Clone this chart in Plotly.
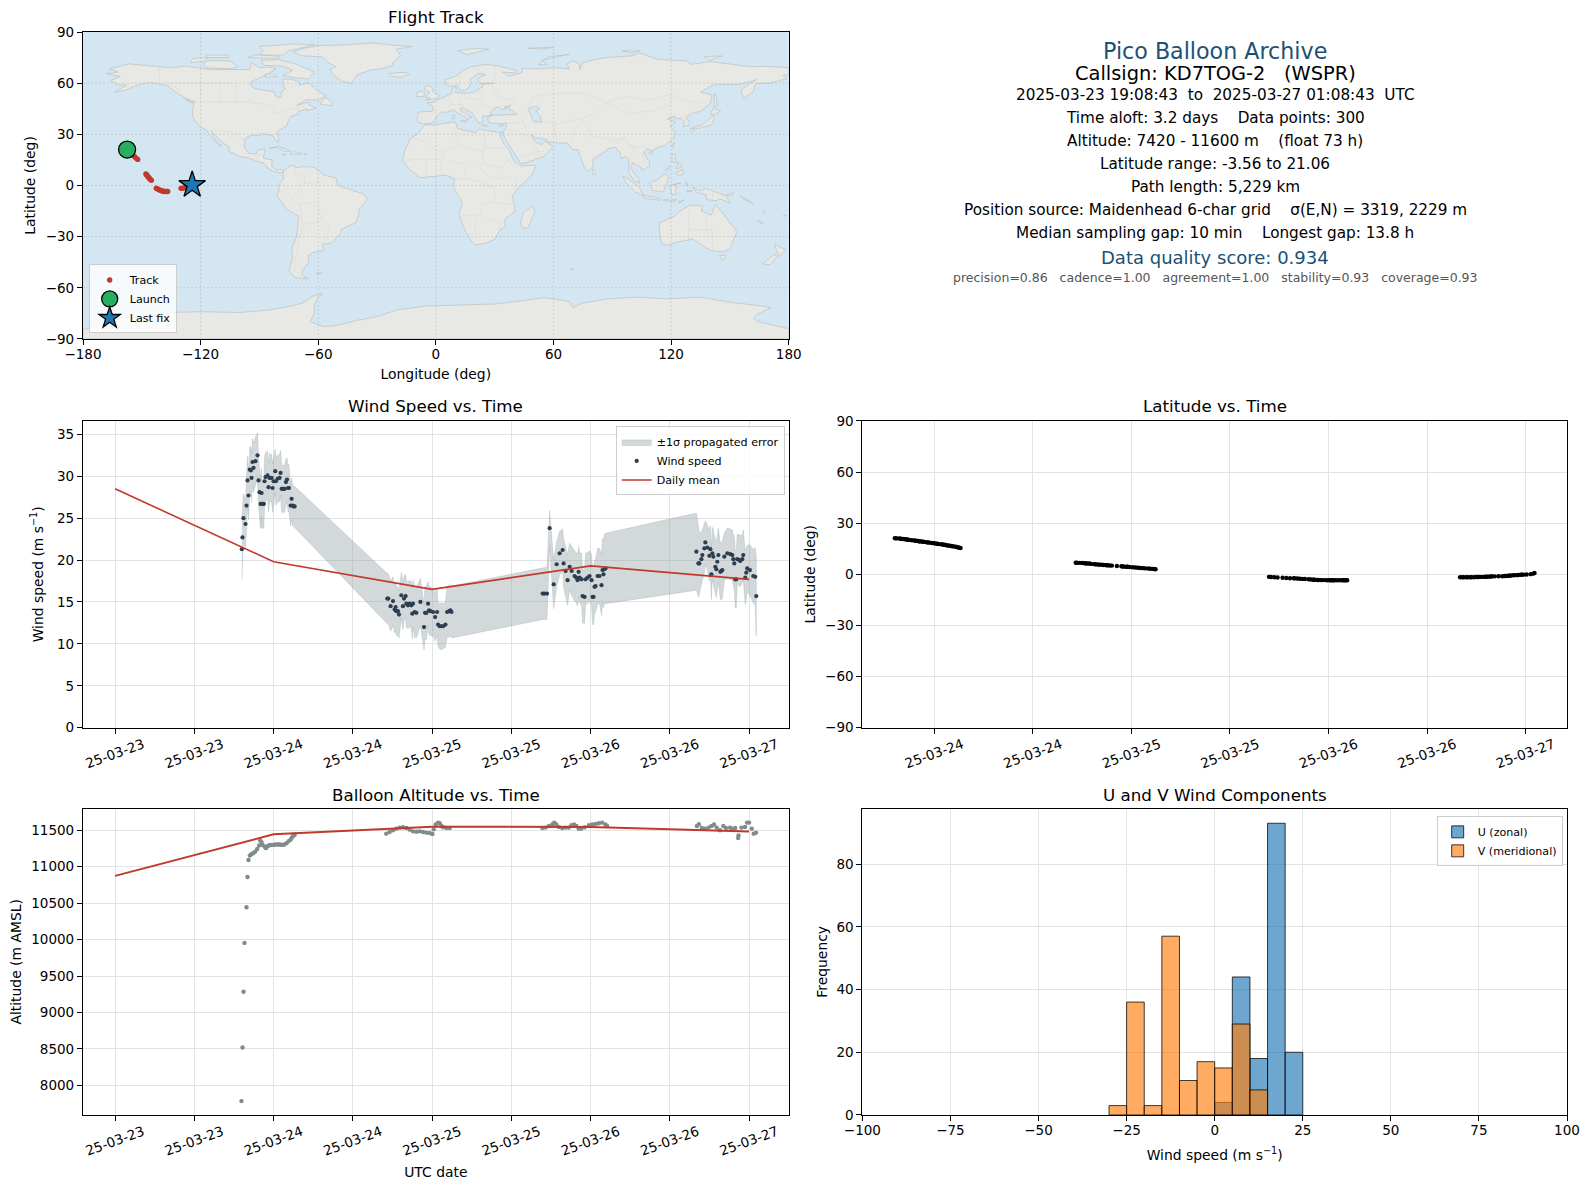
import pandas as pd
import plotly.graph_objects as go

FONT = "DejaVu Sans"
T0 = pd.Timestamp("2025-03-23 00:00:00")

# ---------- wind speed (hours after 03-23 00:00, m/s, sigma) ----------
wind_h1 = [19.19,19.29,19.44,19.75,19.9,20.05,20.2,20.4,20.56,20.66,20.81,20.96,21.27,21.57,21.72,21.87,
           22.03,22.18,22.18,22.33,22.53,22.63,22.78,23.09,23.24,23.39,23.7,23.85,24.0,24.25,24.35,24.6,24.91,
           25.06,25.22,25.37,25.52,25.67,25.87,26.03,26.18,26.33,26.58,26.73,26.89,27.04,27.19]
wind_v1 = [21.3,22.7,25.0,24.3,26.5,29.5,27.7,30.8,30.7,29.8,31.7,31.0,31.8,32.5,29.5,28.1,
           26.7,28.0,26.7,26.7,26.7,29.4,29.9,30.1,28.7,29.8,29.8,28.6,29.4,30.6,29.4,29.7,29.8,
           30.4,28.5,28.5,28.5,28.5,29.3,29.6,28.6,28.6,26.5,27.3,26.5,26.4,26.4]
wind_s1 = [3.7,3.2,2.9,2.8,2.8,2.9,2.9,2.7,2.8,2.9,2.8,2.9,2.9,2.7,2.9,2.9,
           2.9,2.9,2.9,2.9,2.9,2.9,2.9,2.9,2.9,2.9,2.8,2.9,2.9,2.6,2.9,2.8,2.8,
           2.7,2.8,2.8,2.8,2.8,2.7,2.6,2.8,2.8,2.4,2.5,2.4,2.4,2.4]
wind_h2 = [41.22,41.37,41.72,42.08,42.33,42.48,42.58,42.84,42.99,43.34,43.59,43.75,44.0,44.1,44.35,44.61,44.86,45.01,45.11,45.37,
           45.62,46.23,46.78,46.94,47.14,47.39,47.54,47.75,48.15,48.46,48.76,48.91,49.16,49.42,49.67,50.03,50.28,50.58,50.78,50.94]
wind_v2 = [15.4,15.4,14.5,15.1,14.1,14.4,13.9,13.9,13.5,15.8,14.5,15.4,15.7,14.8,14.6,14.8,14.6,13.6,14.8,13.8,
           13.7,15.0,12.0,13.7,13.7,14.8,14.0,13.9,13.8,13.2,13.8,12.3,12.1,12.1,12.1,12.3,13.8,13.9,14.0,13.8]
wind_s2 = [3.0,3.0,3.0,2.9,2.8,2.9,2.9,2.9,2.8,2.7,2.8,2.7,2.6,2.8,2.8,2.8,2.8,3.0,2.8,3.0,
           3.0,2.8,2.7,3.1,3.2,2.6,2.9,2.9,2.8,2.9,2.8,2.6,2.7,2.8,2.7,2.7,3.0,3.1,3.0,3.1]
wind_h3 = [64.75,65.0,65.4,65.8,66.41,66.86,67.31,67.77,67.92,68.22,68.52,68.83,69.13,69.58,69.83,70.04,70.19,70.34,70.64,70.79,
           71.09,71.24,71.55,71.85,72.15,72.3,72.45,72.6,72.76,73.06,73.36,73.66,73.81,73.96,74.07,74.27]
wind_v3 = [16,16,16,23.8,17.1,19.5,20.8,21.2,19.6,18.7,17.6,19.2,18.7,18.1,17.9,17.6,18.6,17.9,17.7,15.7,
           15.6,17.7,17.9,18.1,17.6,15.6,15.6,16.8,16.9,18.1,18.1,17.0,18.8,18.3,18.9,19.0]
wind_s3 = [3.1,3.1,3.1,2.1,2.9,2.7,2.6,2.5,2.9,2.9,3.0,2.8,2.9,3.0,3.0,3.1,3.0,3.0,3.1,3.2,
           3.2,3.1,3.0,3.0,3.0,3.3,3.3,3.2,3.2,3.3,3.3,3.6,3.8,4.0,4.1,4.2]
wind_h4 = [88.02,88.32,88.47,88.78,88.93,89.23,89.38,89.68,89.98,90.14,90.29,90.44,90.59,90.89,91.04,91.19,91.35,91.65,91.8,91.95,
           92.25,92.71,93.16,93.46,93.61,93.76,93.91,94.06,94.21,94.52,94.67,94.97,95.12,95.42,95.57,95.72,96.13,96.63,96.94,97.09]
wind_v4 = [21.0,19.6,19.6,20.1,20.6,21.4,22.1,21.5,20.5,21.3,18.3,20.8,20.4,19.2,18.9,19.8,20.6,18.6,18.7,18.8,
           20.4,20.8,20.7,20.6,20.1,19.6,17.7,17.7,20.1,20.0,19.9,20.1,20.6,17.9,18.5,19.0,18.8,18.1,18.0,15.7]
wind_s4 = [4.6,4.0,3.7,3.2,3.0,2.9,2.6,2.7,3.0,2.8,3.0,3.1,3.2,3.2,3.4,3.2,3.2,3.4,3.4,3.4,
           2.8,3.0,3.0,3.0,3.0,3.2,3.4,3.4,3.0,3.0,3.1,2.8,3.0,3.2,2.9,2.8,3.0,3.2,3.4,4.8]
wind_mean_h = [0, 24, 48, 72, 96]
wind_mean_v = [28.5, 19.8, 16.5, 19.3, 17.7]

# ---------- latitude ----------
lat_v1 = [21.2,21.1,21.1,21.0,20.9,20.8,20.7,20.6,20.5,20.4,20.3,20.2,20.0,19.8,19.7,19.6,19.5,19.4,19.35,19.3,
          19.2,19.1,19.0,18.8,18.7,18.6,18.4,18.3,18.2,18.0,17.9,17.7,17.6,17.4,17.3,17.2,17.0,16.9,16.8,16.6,
          16.5,16.4,16.2,16.0,15.8,15.6,15.4]
lat_v2 = [6.8,6.8,6.7,6.6,6.5,6.4,6.4,6.3,6.2,6.0,5.9,5.8,5.7,5.7,5.6,5.5,5.4,5.3,5.3,5.2,
          5.1,4.9,4.7,4.6,4.5,4.4,4.4,4.3,4.1,4.0,3.9,3.8,3.7,3.6,3.5,3.4,3.3,3.2,3.1,3.0]
lat_v3 = [-1.5,-1.6,-1.7,-1.9,-2.0,-2.2,-2.3,-2.3,-2.4,-2.5,-2.6,-2.7,-2.8,-2.9,-3.0,-3.1,-3.2,-3.2,-3.3,-3.3,
          -3.4,-3.4,-3.4,-3.5,-3.5,-3.5,-3.5,-3.5,-3.5,-3.5,-3.5,-3.5,-3.5,-3.5,-3.5,-3.5]
lat_v4 = [-1.7,-1.7,-1.7,-1.7,-1.7,-1.7,-1.7,-1.7,-1.6,-1.6,-1.6,-1.5,-1.5,-1.5,-1.5,-1.4,-1.4,-1.3,-1.3,-1.2,
          -1.2,-1.1,-1.1,-1.0,-1.0,-0.9,-0.8,-0.8,-0.7,-0.6,-0.5,-0.5,-0.4,-0.3,-0.2,-0.2,-0.1,0.1,0.4,0.8]

# ---------- altitude ----------
alt_h = [19.14,19.3,19.45,19.6,19.9,20.05,
         20.2,20.41,20.61,20.91,21.22,21.52,21.82,21.97,22.18,22.33,22.63,22.84,23.09,23.34,23.6,23.85,24.1,24.35,24.6,24.86,25.1,25.37,25.62,25.97,26.28,26.58,26.78,26.99,27.19,
         41.06,41.57,42.08,42.58,43.09,43.59,44.1,44.61,45.11,45.62,46.13,46.63,47.14,47.65,48.05,48.25,48.56,48.91,49.16,49.42,49.67,50.18,50.68,
         64.7,65.2,65.7,66.2,66.5,66.8,67.2,67.7,68.2,68.7,69.1,69.5,69.85,70.2,70.6,71.1,71.75,72.25,72.75,73.25,73.75,74.25,74.5,
         88.1,88.4,88.85,89.3,89.85,90.3,90.7,91.1,91.6,92.1,92.5,93.1,93.4,93.9,94.35,94.4,94.85,95.4,95.7,96.0,96.4,96.7,97.05]
alt_m = [7785,8520,9285,9955,10445,10860,
         11092,11153,11171,11185,11208,11245,11292,11361,11338,11300,11278,11255,11282,11296,11298,11300,11302,11305,11305,11305,11303,11300,11305,11324,11352,11370,11403,11426,11440,
         11454,11477,11500,11523,11537,11542,11532,11509,11486,11481,11486,11477,11468,11463,11449,11514,11579,11606,11597,11560,11542,11532,11532,
         11532,11537,11560,11579,11606,11579,11546,11532,11537,11537,11569,11579,11560,11523,11523,11542,11569,11579,11588,11597,11606,11579,11560,
         11560,11583,11532,11523,11537,11560,11579,11537,11500,11560,11532,11537,11523,11532,11394,11430,11537,11546,11606,11606,11523,11454,11468]
alt_mean_h = [0, 24, 48, 72, 96]
alt_mean_m = [10875, 11445, 11550, 11545, 11485]

# ---------- histogram ----------
hist_centres_u = [2.5, 7.5, 12.5, 17.5, 22.5]
hist_counts_u = [4, 44, 18, 93, 20]
hist_centres_v = [-27.5, -22.5, -17.5, -12.5, -7.5, -2.5, 2.5, 7.5, 12.5]
hist_counts_v = [3, 36, 3, 57, 11, 17, 15, 29, 8]

# ---------- flight track ----------
track_lon = [-157.5,-156.6,-155.6,-154.6,-153.6,-152.8,-152.1,
             -147.9,-147.5,-147.0,-146.6,-146.1,-145.6,-145.1,
             -142.6,-141.9,-141.2,-140.4,-139.7,-139.0,-138.3,-137.6,-136.8,
             -130.0,-129.2,-128.4,-127.6,-126.8,-126.0,-125.2,-124.3]
track_lat = [21.06,19.9,18.8,17.7,16.8,15.9,15.3,
             6.8,6.1,5.4,4.8,4.1,3.5,3.0,
             -1.6,-2.1,-2.5,-2.9,-3.2,-3.4,-3.5,-3.5,-3.56,
             -1.7,-1.6,-1.4,-1.1,-0.9,-0.6,-0.2,0.3]
launch_lon, launch_lat = [-157.5], [21.06]
last_lon, last_lat = [-124.3], [0.3]

# ---------- basemap outlines (lon, lat) ----------
north_america = [(-168,65.6),(-162,66.5),(-166.5,68.3),(-156.5,71.3),(-141,69.6),(-135,69),(-128,70),(-115,68),(-108,68),(-95,68),(-94,72),(-90,69),(-85,69.5),(-81.5,68.5),(-87,64.5),(-94,61),(-94.5,58.7),(-92.5,57),(-85,55.3),(-82.3,55),(-82,52.9),(-79.5,51.3),(-78.8,52.5),(-79,54.8),(-76.7,56.5),(-78,58.8),(-78,62.4),(-73.5,62.3),(-70,61),(-69.5,58.8),(-65,60.3),(-61,56),(-56,52.5),(-60,50.2),(-66.5,50.2),(-71,46.9),(-65,49),(-64.5,47),(-61,45.3),(-66,43.8),(-65.5,45),(-70,43.6),(-70.5,41.7),(-74,40.6),(-75.5,37.5),(-76,35),(-81,31.5),(-80,26.8),(-80.5,25.2),(-82,27),(-83,29),(-85,29.7),(-89,30.3),(-90,29.2),(-94,29.6),(-97.3,27.5),(-97.7,22.5),(-95.5,18.8),(-91.5,18.5),(-90.4,21),(-87,21.4),(-88,16),(-83.5,15),(-83.7,11),(-81,9),(-79.5,9.5),(-77.5,8.7),(-78,7.5),(-80,7.5),(-83,8.3),(-85.7,10),(-87.5,13),(-92,14.5),(-95,16),(-100,17),(-105.5,20),(-105.5,22.5),(-109,25.5),(-112.5,29.5),(-114.7,31.7),(-112,26),(-109.5,23),(-112,25),(-115,29),(-117,32.5),(-120.5,34.5),(-124,40),(-124,46),(-123,49),(-128,51.5),(-133,55),(-137,58.5),(-146,60.5),(-152,59),(-158,56),(-164,54.7),(-157.5,58.8),(-162,59),(-166,61.5),(-161,64)]
south_america = [(-77.5,8.7),(-75,11),(-72,12),(-71.5,10.5),(-68,11),(-62,10.7),(-57,6),(-51,4.5),(-50,0),(-44,-2.5),(-37,-5),(-35,-8),(-39,-14),(-39.5,-18),(-41,-22),(-48,-25.5),(-48.5,-28),(-53.5,-34),(-58,-34.3),(-57,-38),(-62,-39),(-65,-41),(-65,-45),(-68,-50),(-68.5,-52.5),(-65,-54.8),(-72,-54),(-75,-50),(-73,-42),(-73.5,-37),(-71,-30),(-70,-18),(-76,-14),(-81,-6),(-80,-2.5),(-80,1),(-77.5,4),(-78,7.5)]
greenland = [(-73,78.2),(-67,80.5),(-60,82),(-45,82.5),(-32,83.6),(-22,82.3),(-12,81.5),(-20,80),(-18,76),(-22,72),(-22,70.5),(-27,68.5),(-33,67.8),(-40,65),(-43,60),(-48,61),(-52,64.5),(-54,68),(-51,69.7),(-55,72),(-58,75.5),(-68,76)]
eurasia = [(-9,37),(-9.5,38.8),(-9,43),(-2,43.5),(-1.2,46),(-4.5,48.4),(-1.5,48.7),(1.5,50.5),(4,52),(8,54),(8.5,57),(10.5,57.6),(10,54.5),(12,54.2),(14.2,54),(19,54.5),(21,56),(24,58),(23.5,59.2),(29.8,60),(23,60),(21.3,61),(21.5,63),(25.3,65),(22,65.8),(17.5,62.5),(18,60),(16.5,57),(14.2,55.5),(12.8,55.5),(11,59),(7.5,58),(5,59.5),(5,62),(10,64),(14,67.5),(18,69.5),(25,71),(31,70.3),(41,67.5),(40,66),(34,66.5),(37,64),(40,65),(44,66.2),(44,68.5),(54,68.5),(60,69),(68,68.5),(67,71.5),(70,73),(73,71.5),(73.5,68),(75,72),(80,73.5),(87,75),(100,76),(104,77.7),(113,74),(128,73),(130,71),(140,72.7),(152,71),(160,69.7),(170,69.8),(180,69),(180,65),(177,64.5),(179,62.5),(170,60),(163,59.8),(162,55),(157,51),(155.5,56),(163.5,62),(155,59.3),(142,59.3),(135,54.7),(141,53),(140,48),(135,43.5),(130.7,42.3),(127.5,39.8),(129.5,37),(129,35.2),(126.3,34.5),(126.7,37.5),(125,39.6),(121.5,39),(122,40.7),(118,39),(122.5,37),(119.5,35),(122,31),(121.5,28),(117,23.5),(113.5,22.3),(110,20.5),(108,21.5),(106,19),(109,14),(109,11.5),(105,8.7),(105,10.3),(102.5,12),(100.5,13.5),(99.3,10),(103.3,4),(104,1.4),(101,3),(98.2,8.2),(98.5,14),(97,17),(94.5,16),(94,19),(91.5,22.5),(88,21.7),(86.5,20),(80.2,15.5),(80,11),(78,8.3),(76,10),(73,19),(72.5,21),(70,21),(67,24.8),(62,25),(57,25.6),(56.5,27),(51,28),(48.5,30),(50,26.5),(51.5,25),(54,24),(56,26),(59.7,22.5),(55,17),(45,13),(43.2,13),(39,21),(35,28),(34.2,31.3),(35.8,34),(36,36.5),(30.5,36.2),(27,37),(26.3,39.5),(29,41),(27,41),(23.5,40.3),(24,38),(23,36.5),(21.5,37),(19.5,41),(18.5,42.5),(13.7,45.6),(12.3,45),(12.5,44),(16,41.8),(18.5,40),(16.5,39.5),(16,38),(15.5,40),(12,42),(9,44.3),(6,43),(3,43),(0.5,40.5),(-0.5,38.5),(-2,36.7),(-5.5,36)]
africa = [(-5.5,35.8),(-1,35.5),(10,37.3),(11,33.5),(15,32.2),(20,31),(22,33),(32,31.2),(34.2,31.3),(32.5,29.8),(35,24),(37.3,21),(39.5,15),(43.2,11.5),(51.2,11.8),(49,6),(42,-1.5),(39,-6),(40.5,-15),(35,-20),(35.5,-24),(32.7,-26),(30,-31.5),(25.5,-34),(20,-34.8),(18.3,-33),(15,-27),(11.8,-17),(13.5,-10),(9,-1),(9.5,4),(5,6),(-4,5),(-8,4.5),(-13,9),(-17,14.7),(-16,20),(-13,27.7),(-9.5,30),(-6.5,34)]
australia = [(114,-22),(122,-18),(125,-14.5),(130,-11.5),(136,-12),(135.5,-15),(140.5,-17.5),(142.5,-11),(145.5,-15),(150,-22),(153.5,-27),(150,-37.5),(146,-39),(140,-38),(135.5,-35),(131,-31.5),(124,-33),(118,-35),(115,-34.3),(114,-26)]
antarctica = [(-180,-84.5),(-160,-78),(-150,-77),(-135,-74.5),(-120,-74),(-100,-74.5),(-85,-73),(-75,-71),(-68,-69),(-63,-65),(-57.5,-63.3),(-60,-65.5),(-62,-70),(-62,-75),(-64,-80),(-57,-82.8),(-50,-82),(-40,-79),(-30,-77),(-20,-73),(-5,-70.7),(15,-70),(30,-69.5),(45,-67.5),(55,-65.8),(68,-68),(70,-71.5),(75,-69),(88,-66.5),(102,-65.5),(118,-66.5),(135,-65.5),(150,-68.5),(165,-70.5),(171,-71.5),(164,-75.5),(162,-78),(165,-80),(180,-84),(180,-90),(-180,-90)]
islands = [
 [(-80,73.7),(-72,71.5),(-67,69),(-62,66.5),(-65,62.5),(-71,63),(-78,64.5),(-73,67.5),(-78,70),(-88,70.5),(-89,73.5)],
 [(-117,69),(-105,68.5),(-101,69.5),(-105,73),(-115,73.3),(-119,71.5)],
 [(-125,72),(-118,73),(-116,75),(-124,74.5)],
 [(-90,76.5),(-78,76.5),(-75,79),(-62,82.5),(-72,83),(-90,81.5),(-88,79)],
 [(-96,75),(-80,74.5),(-80,75.7),(-92,76.7)],
 [(-117,75),(-106,75),(-106,76.5),(-117,76.5)],
 [(-87,63.5),(-81,63.8),(-83,65.5),(-87,65.3)],
 [(-59,47.7),(-53,46.7),(-53,48.7),(-56,51.5),(-57.5,50.5)],
 [(-128,50.7),(-124,49),(-123.5,48.5),(-125.5,49)],
 [(-85,21.8),(-80,23),(-74.2,20.2),(-77.5,19.9),(-78.5,21),(-82,22.4)],
 [(-74.4,18.5),(-72.8,19.9),(-68.4,18.7),(-71,18)],
 [(-78.3,18.4),(-76.3,18.2),(-77,17.8)],
 [(-67.2,18.4),(-65.7,18.4),(-66,18)],
 [(-24,65.5),(-19,66.2),(-15,66.3),(-13.6,65),(-18,63.5),(-22.5,63.9)],
 [(11,79),(20,80.3),(27,80),(21,78),(16,76.7)],
 [(52,71),(56,74),(68,76.9),(58,75.5),(54,73),(57,70.7)],
 [(95,79),(104,79),(100,77.7)],
 [(137,75.5),(146,76),(140,73.5)],
 [(47,80.5),(60,81),(55,80)],
 [(-5.5,50),(1.5,51.2),(1.7,52.8),(-1.5,55),(-2,57.6),(-5,58.6),(-6,56.5),(-3,54.5),(-4.5,53.3),(-5,51.7),(-3,51.3)],
 [(-10,52),(-6,52.2),(-5.8,54.7),(-8,55.3),(-10,54)],
 [(12.5,38),(15.5,38.2),(15,36.7)],
 [(8.3,41),(9.7,41),(9.5,39),(8.5,39)],
 [(23.5,35.5),(26.3,35.2),(24.8,34.9)],
 [(32.3,35),(34.5,35.6),(33.5,34.6)],
 [(49.3,-12),(50.5,-15.5),(47,-25),(44,-25),(43.3,-21),(44.5,-16)],
 [(80,9.7),(82,7),(80.5,6),(79.7,8)],
 [(95.3,5.6),(98,4),(104,-1.5),(106,-6),(102,-4),(97,1.5)],
 [(105.5,-6),(110,-6.5),(114.5,-7.7),(114.5,-8.7),(106,-7.5)],
 [(109,1.5),(113,3.2),(117,7),(119,5),(117.5,1),(116,-3.8),(110.5,-3)],
 [(119.5,0),(125,1.5),(121,0.5),(123,-1),(122,-3),(123,-5),(120.5,-5.5),(120,-2.5)],
 [(131,-0.8),(135,-3.3),(138,-1.7),(145,-4.5),(147.8,-6),(150.5,-10.5),(145,-7.8),(143,-9),(138,-8.3),(138,-5.5),(133,-4)],
 [(116,-8.3),(119,-8.3),(119,-9),(116,-9)],
 [(120,-8.5),(123,-8.3),(122.5,-9),(119.5,-9.5)],
 [(124,-9.5),(127,-8.4),(124,-10.2)],
 [(127.5,2),(128.5,1),(128,-0.5)],
 [(127.8,-3),(130.8,-3.2),(128.5,-3.6)],
 [(148,-5.5),(152,-4.2),(151,-6)],
 [(155,-6),(160,-9),(162,-10.7),(157,-8)],
 [(164,-20.3),(167,-22.4),(166,-21.8)],
 [(167,-15),(168,-16.5),(167.2,-16)],
 [(177.3,-17.5),(178.6,-17.5),(178,-18.3)],
 [(120.5,18.5),(122.2,18.4),(122,15),(124,13),(120.5,14)],
 [(122,7),(126,9.5),(126.2,6.3),(124,6)],
 [(123,11.5),(125.5,12.5),(125,10.5),(122.5,10)],
 [(117.2,8.4),(119.5,11.3),(118,9)],
 [(120.2,23),(121.5,25.2),(121,22)],
 [(108.7,19.3),(110.5,20),(110.5,18.5)],
 [(130.9,34),(136,35.5),(140,39.5),(141.5,41.3),(142,39.5),(140.8,35.5),(136.5,34.3),(135,33.6),(131,33.5)],
 [(130,33.5),(132,33),(131,31),(130,31.3)],
 [(140,41.6),(141.5,45.4),(145.3,43.7),(143,42)],
 [(142,54.3),(143.2,52),(143.5,46.7),(142,46),(142,50)],
 [(144.7,-41),(148,-41),(147,-43.5),(146,-43.5)],
 [(172.7,-34.5),(178.5,-37.7),(175,-41.5),(174,-39)],
 [(172.7,-40.5),(174,-41.7),(170.5,-46.5),(166.5,-46)],
 [(-61,-51.3),(-58,-51.3),(-59,-52.2)],
 [(68.8,-49),(70.5,-49),(69.5,-49.8)],
]
inland_seas = [
 [(28,41.5),(31,41.2),(36,41.5),(41.5,41.7),(39,44),(37,45),(38,47),(35,46),(36.5,45.3),(33.5,44.5),(32.5,46),(30,45.5),(28,43)],
 [(47,45),(51,46.5),(53,45),(51,44),(53,41),(54,37),(50,37.5),(49,40)],
]
borders = [
 [(-123,49),(-95,49),(-89,48),(-83,46),(-82.5,42),(-79,43),(-75,45),(-71,45),(-67.5,47),(-67,44.8)],
 [(-141,69.6),(-141,60),(-135,59),(-130,55.5)],
 [(-117,32.5),(-108,31.5),(-106,31.7),(-101,29.7),(-97.5,26)],
 [(-92,14.5),(-91,17.5),(-89,17.8),(-88.5,18)],
 [(-72,12),(-72,7),(-67,6),(-67,1.5)],
 [(-60,5),(-60,1.5),(-67,1.5),(-70,-1),(-70,-4),(-74,-7.5),(-70,-11),(-65,-10),(-60,-14),(-58,-20),(-55,-24),(-54,-27),(-57.5,-30),(-53.5,-33.5)],
 [(-69,-11),(-69,-17),(-70,-18)],
 [(-69,-18),(-68,-23),(-70,-33),(-72,-45),(-72,-50),(-68.5,-52.5)],
 [(-68,-23),(-62,-22),(-58,-20)],
 [(-80,-3.5),(-75,-1.5),(-79,1.5)],
 [(-8.7,27.5),(-13,27.7)],
 [(-8.7,27.5),(3,19),(12,23.5),(9.5,30),(11,33)],
 [(12,23.5),(24,20),(25,22),(25,31.5)],
 [(25,22),(36.9,22)],
 [(24,20),(24,13),(22,11),(27,5),(31,3.8),(35,5),(41,3.8),(41,-1.5)],
 [(3,19),(4,15),(14,13),(15,8),(14.5,4),(9.5,4)],
 [(24,13),(34,10),(36,14.5),(43,12.5)],
 [(-17,14.7),(-5,15.5),(3,15),(2.7,6.5)],
 [(-5,15.5),(-5,5)],
 [(14.5,4),(18,3.5),(30,-1),(30,-10),(24,-11),(22,-18),(12,-17.3)],
 [(30,-10),(40,-11)],
 [(22,-18),(20,-22),(20,-28.5),(16.5,-28.5)],
 [(25,-18),(33,-22),(32,-26.5)],
 [(3,51.2),(6,49.5),(8,49),(7.5,47.5),(6,46),(7.5,43.8)],
 [(-1.8,43.3),(3,42.5)],
 [(-9,41.9),(-7,42),(-7,37.3)],
 [(7,53.5),(6.5,51),(6,49.5)],
 [(14.2,54),(15,51),(12,50.2),(13,47.5),(7.5,47.5)],
 [(13,47.5),(13.7,46)],
 [(15,51),(24,50.5),(23.5,54),(21,55.5)],
 [(24,50.5),(22,48),(29,45.3)],
 [(28,60),(32,52),(40,49.5),(38,47)],
 [(30,70),(30,62),(28,60)],
 [(20,69),(25,65.5)],
 [(13,66),(12,60),(11,59)],
 [(47.5,45),(50,52),(61,54),(76,54),(87,49),(80,42),(74,39),(67,37.5),(61,36),(54,37.5)],
 [(87,49),(98,52),(108,50),(120,53),(127,50),(135,48),(131,43)],
 [(87,49),(98,42),(112,44),(119,47),(120,53)],
 [(74,39),(78,33),(79,29),(88,27),(97,28),(98,24),(102,22),(106,23),(108,21.5)],
 [(61,36),(61,30),(62,25)],
 [(74,37),(71,33),(70,27),(68,23.7)],
 [(97,28),(92,25),(88,26)],
 [(44,39.5),(44.5,37),(46,33),(48,30)],
 [(36,36.5),(42,37),(44.5,37)],
 [(36,33),(39,32.5),(47,29),(52,20),(55,20),(52,17)],
 [(42,16.5),(44,17.5),(52,19)],
 [(101,21),(105,18),(107,14.5),(102,12)],
 [(98,24),(101,21),(99,17),(99,10.5)],
 [(125,40),(131,42.5)],
 [(129,-15),(129,-31.5)],
 [(138,-16.5),(138,-26),(141,-26),(141,-38)],
 [(129,-26),(138,-26)],
 [(141,-2.6),(141,-9)],
 [(-120,49),(-120,60),(-102,60),(-102,49)],
 [(-110,60),(-110,49)],
 [(-95,49),(-89,57)],
 [(-120,60),(-140,60)],
]

map_x_ticks = [-180,-120,-60,0,60,120,180]
map_y_ticks = [-90,-60,-30,0,30,60,90]

info_lines = [
 ("Pico Balloon Archive", 22.2, "#1a5276", 50.8),
 ("Callsign: KD7TOG-2   (WSPR)", 19.4, "#000000", 73.2),
 ("2025-03-23 19:08:43  to  2025-03-27 01:08:43  UTC", 15.25, "#000000", 94.6),
 ("Time aloft: 3.2 days    Data points: 300", 15.25, "#000000", 117.6),
 ("Altitude: 7420 - 11600 m    (float 73 h)", 15.25, "#000000", 140.4),
 ("Latitude range: -3.56 to 21.06", 15.25, "#000000", 163.6),
 ("Path length: 5,229 km", 15.25, "#000000", 186.4),
 ("Position source: Maidenhead 6-char grid    σ(E,N) = 3319, 2229 m", 15.25, "#000000", 209.6),
 ("Median sampling gap: 10 min    Longest gap: 13.8 h", 15.25, "#000000", 232.6),
 ("Data quality score: 0.934", 18.0, "#1a5276", 257.5),
 ("precision=0.86   cadence=1.00   agreement=1.00   stability=0.93   coverage=0.93", 12.5, "#555555", 277.5),
]

W, H = 1590, 1189
ML, MR, MT, MB = 83.3, 22.7, 31.5, 74.3
PW, PH = W - ML - MR, H - MT - MB
def px(x): return (x - ML) / PW
def py(y): return 1 - (y - MT) / PH
def dx(a, b): return [px(a), px(b)]
def dy(top, bot): return [py(bot), py(top)]

def when(hours):
    return [T0 + pd.Timedelta(hours=float(h)) for h in hours]

def polys(rings):
    xs, ys = [], []
    for r in rings:
        xs += [p[0] for p in r] + [r[0][0], None]
        ys += [p[1] for p in r] + [r[0][1], None]
    return xs, ys

def lines(rings):
    xs, ys = [], []
    for r in rings:
        xs += [p[0] for p in r] + [None]
        ys += [p[1] for p in r] + [None]
    return xs, ys

INK = "#000000"
GRID = "#e3e3e3"
TICK = 13.5
LABEL = 13.9
axis_base = dict(showline=True, linecolor=INK, linewidth=1.2, mirror=True, ticks="outside", ticklen=5,
                 tickwidth=1, tickcolor=INK, tickfont=dict(family=FONT, size=TICK, color=INK),
                 showgrid=True, gridcolor=GRID, gridwidth=1, zeroline=False)
x_axis_base = dict(axis_base, ticklabelstandoff=-2)

fig = go.Figure()

# --- map ---
land_rings = [north_america, south_america, greenland, eurasia, africa, australia, antarctica] + islands
lx, ly = polys(land_rings)
fig.add_trace(go.Scatter(x=lx, y=ly, xaxis="x", yaxis="y", mode="lines", fill="toself", fillcolor="#e8e8e4",
                         line=dict(color="#bcc1c4", width=0.7), hoverinfo="skip", showlegend=False))
sx, sy = polys(inland_seas)
fig.add_trace(go.Scatter(x=sx, y=sy, xaxis="x", yaxis="y", mode="lines", fill="toself", fillcolor="#d4e6f1",
                         line=dict(color="#bcc1c4", width=0.7), hoverinfo="skip", showlegend=False))
bx, by = lines(borders)
fig.add_trace(go.Scatter(x=bx, y=by, xaxis="x", yaxis="y", mode="lines",
                         line=dict(color="#dcdcd8", width=0.7), hoverinfo="skip", showlegend=False))
gx, gy = [], []
for v in map_x_ticks[1:-1]:
    gx += [v, v, None]; gy += [-90, 90, None]
for v in map_y_ticks[1:-1]:
    gx += [-180, 180, None]; gy += [v, v, None]
fig.add_trace(go.Scatter(x=gx, y=gy, xaxis="x", yaxis="y", mode="lines",
                         line=dict(color="rgba(120,120,120,0.3)", width=0.7, dash="2px,2px"),
                         hoverinfo="skip", showlegend=False))
fig.add_trace(go.Scatter(x=track_lon, y=track_lat, xaxis="x", yaxis="y", mode="markers", name="Track", legend="legend",
                         marker=dict(size=5.4, color="#c0392b")))
fig.add_trace(go.Scatter(x=launch_lon, y=launch_lat, xaxis="x", yaxis="y", mode="markers", name="Launch", legend="legend",
                         marker=dict(size=17, color="#27ae60", line=dict(color="black", width=1.3))))
fig.add_trace(go.Scatter(x=last_lon, y=last_lat, xaxis="x", yaxis="y", mode="markers", name="Last fix", legend="legend",
                         marker=dict(size=20, symbol="star", color="#1f77b4", line=dict(color="black", width=1.3))))

# --- wind ---
wh = wind_h1 + wind_h2 + wind_h3 + wind_h4
wv = wind_v1 + wind_v2 + wind_v3 + wind_v4
ws = wind_s1 + wind_s2 + wind_s3 + wind_s4
hi = [a + b for a, b in zip(wv, ws)]
lo = [a - b for a, b in zip(wv, ws)]
fig.add_trace(go.Scatter(x=when(wh) + when(wh[::-1]), y=hi + lo[::-1], xaxis="x2", yaxis="y2", mode="lines", fill="toself",
                         fillcolor="rgba(149,165,166,0.42)", line=dict(color="rgba(149,165,166,0.42)", width=0.7),
                         name="±1σ propagated error", legend="legend2"))
fig.add_trace(go.Scatter(x=when(wh), y=wv, xaxis="x2", yaxis="y2", mode="markers", name="Wind speed", legend="legend2",
                         marker=dict(size=4.2, color="#2c3e50")))
fig.add_trace(go.Scatter(x=when(wind_mean_h), y=wind_mean_v, xaxis="x2", yaxis="y2", mode="lines", name="Daily mean",
                         legend="legend2", line=dict(color="#c0392b", width=1.6)))

# --- latitude ---
fig.add_trace(go.Scatter(x=when(wh), y=lat_v1 + lat_v2 + lat_v3 + lat_v4, xaxis="x3", yaxis="y3", mode="markers",
                         marker=dict(size=4.4, color="black"), showlegend=False))

# --- altitude ---
fig.add_trace(go.Scatter(x=when(alt_h), y=alt_m, xaxis="x4", yaxis="y4", mode="markers",
                         marker=dict(size=4.4, color="#7f8c8d"), showlegend=False))
fig.add_trace(go.Scatter(x=when(alt_mean_h), y=alt_mean_m, xaxis="x4", yaxis="y4", mode="lines",
                         line=dict(color="#c0392b", width=2), showlegend=False))

# --- histogram ---
fig.add_trace(go.Bar(x=hist_centres_u, y=hist_counts_u, width=5, xaxis="x5", yaxis="y5", name="U (zonal)", legend="legend3",
                     marker=dict(color="rgba(31,119,180,0.65)", line=dict(color="rgba(0,0,0,0.75)", width=1))))
fig.add_trace(go.Bar(x=hist_centres_v, y=hist_counts_v, width=5, xaxis="x5", yaxis="y5", name="V (meridional)", legend="legend3",
                     marker=dict(color="rgba(255,127,14,0.65)", line=dict(color="rgba(0,0,0,0.75)", width=1))))

date_axis = dict(x_axis_base, type="date", dtick=43200000, tick0="2025-03-23", tickformat="%y-%m-%d",
                 tickangle=-20, ticklabelshift=28)
def t_range(a, b):
    return [T0 + pd.Timedelta(hours=a), T0 + pd.Timedelta(hours=b)]

def title(text, standoff):
    return dict(text=text, font=dict(family=FONT, size=LABEL, color=INK), standoff=standoff)

legend_base = dict(bgcolor="rgba(255,255,255,0.8)", bordercolor="#cccccc", borderwidth=1,
                   font=dict(family=FONT, size=11.1, color=INK), tracegroupgap=0)

layout = dict(
    width=W, height=H, margin=dict(l=ML, r=MR, t=MT, b=MB, autoexpand=False), paper_bgcolor="white", plot_bgcolor="white",
    barmode="overlay", showlegend=True, hovermode=False,
    font=dict(family=FONT, color=INK),
    xaxis=dict(x_axis_base, domain=dx(83.3, 789), range=[-180, 180], tickvals=map_x_ticks, showgrid=False,
               anchor="y", title=title("Longitude (deg)", 8)),
    yaxis=dict(axis_base, domain=dy(31.5, 338.5), range=[-90, 90], tickvals=map_y_ticks, showgrid=False,
               anchor="x", title=title("Latitude (deg)", 6)),
    xaxis2=dict(date_axis, domain=dx(83.3, 789), range=t_range(-4.857, 102.0), anchor="y2"),
    yaxis2=dict(axis_base, domain=dy(420.5, 727.3), range=[0, 36.6], dtick=5, anchor="x2",
                title=title("Wind speed (m s<sup>−1</sup>)", 10)),
    xaxis3=dict(date_axis, domain=dx(862.7, 1567.3), range=t_range(15.24, 101.04), anchor="y3"),
    yaxis3=dict(axis_base, domain=dy(420.5, 727.3), range=[-90, 90], tickvals=map_y_ticks, anchor="x3",
                title=title("Latitude (deg)", 6)),
    xaxis4=dict(date_axis, domain=dx(83.3, 789), range=t_range(-4.857, 102.0), anchor="y4",
                title=title("UTC date", 9)),
    yaxis4=dict(axis_base, domain=dy(808.3, 1114.7), range=[7594, 11797], dtick=500, tickformat="d", anchor="x4",
                title=title("Altitude (m AMSL)", 6)),
    xaxis5=dict(x_axis_base, domain=dx(862.7, 1567.3), range=[-100, 100], dtick=25, anchor="y5",
                title=title("Wind speed (m s<sup>−1</sup>)", 12)),
    yaxis5=dict(axis_base, domain=dy(808.3, 1114.7), range=[0, 97.65], dtick=20, anchor="x5",
                title=title("Frequency", 5)),
    legend=dict(legend_base, x=px(89), y=py(333), xanchor="left", yanchor="bottom"),
    legend2=dict(legend_base, x=px(785), y=py(426), xanchor="right", yanchor="top"),
    legend3=dict(legend_base, x=px(1563), y=py(816), xanchor="right", yanchor="top"),
    annotations=[],
)

# sea colour only on the map panel
layout["shapes"] = [dict(type="rect", xref="x domain", yref="y domain", x0=0, x1=1, y0=0, y1=1,
                         fillcolor="#d4e6f1", line_width=0, layer="below")]

def label(text, x_px, y_px, size, color):
    return dict(text=text, x=px(x_px), y=py(y_px), xref="paper", yref="paper", xanchor="center", yanchor="middle",
                showarrow=False, font=dict(family=FONT, size=size, color=color))

panel_titles = [("Flight Track", 436, 16.8), ("Wind Speed vs. Time", 436, 405.8), ("Latitude vs. Time", 1215, 405.8),
                ("Balloon Altitude vs. Time", 436, 795), ("U and V Wind Components", 1215, 795)]
for text, x_px, y_px in panel_titles:
    layout["annotations"].append(label(text, x_px, y_px, 16.7, INK))
for text, size, color, y_px in info_lines:
    layout["annotations"].append(label(text, 1215.5, y_px, size, color))

fig.update_layout(**layout)
fig.write_html("out.html", config=dict(displayModeBar=False), post_script="document.body.style.margin='0';")
